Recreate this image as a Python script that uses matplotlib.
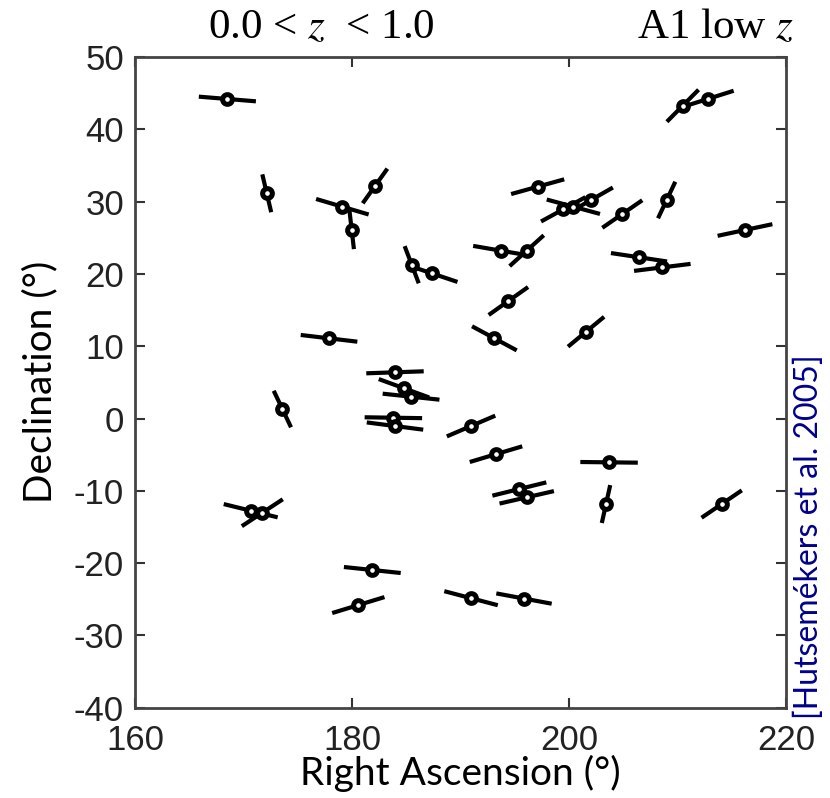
import numpy as np
import matplotlib
matplotlib.use("Agg")
import matplotlib.pyplot as plt

plt.rcParams['mathtext.fontset'] = 'stix'
plt.rcParams['axes.unicode_minus'] = False

# Quasar positions (deg) and polarization vector orientation (deg, in data frame)
ra = [168.51, 172.14, 182.12, 179.11, 179.97, 185.50, 187.35, 177.88, 183.96, 184.79,
      185.44, 183.81, 183.96, 173.58, 170.66, 171.73, 181.87, 180.58, 210.48, 212.78,
      197.11, 199.47, 200.40, 202.03, 204.91, 209.00, 216.22, 193.73, 196.10, 206.45,
      208.60, 194.41, 193.12, 201.57, 190.97, 193.27, 195.42, 196.10, 203.69, 203.41,
      214.07, 190.97, 195.85]
dec = [44.19, 31.15, 32.16, 29.29, 26.07, 21.27, 20.08, 11.09, 6.39, 4.18,
       3.02, 0.11, -1.04, 1.31, -12.75, -13.03, -20.95, -25.80, 43.26, 44.19,
       32.06, 28.93, 29.29, 30.22, 28.28, 30.22, 26.07, 23.21, 23.21, 22.30,
       20.90, 16.25, 11.09, 12.00, -1.04, -4.93, -9.75, -10.90, -6.06, -11.83,
       -11.83, -24.85, -24.90]
angle = [-7.0, 98.9, 64.6, 156.1, 94.4, 104.2, 153.3, 169.9, 3.0, 151.3,
         171.0, -1.3, 169.1, 107.5, 159.7, 44.6, 171.0, 24.6, 56.6, 25.4,
         22.6, 39.4, 157.9, 40.6, 46.0, 72.5, 17.7, 165.5, 53.6, 167.3,
         10.5, 46.8, 141.0, 51.1, 32.7, 24.1, 20.3, 19.0, -1.0, 81.6,
         45.6, 158.5, 164.4]

x_ticks = [160, 180, 200, 220]
y_ticks = [-40, -30, -20, -10, 0, 10, 20, 30, 40, 50]

SEG_LEN = 5.3  # length of each vector in degrees

fig = plt.figure(figsize=(8.30, 7.98), dpi=100)
ax = fig.add_axes([0.1627, 0.1131, 0.7843, 0.8155])

ra_a = np.array(ra)
dec_a = np.array(dec)
phi = np.deg2rad(np.array(angle))
dx = SEG_LEN / 2 * np.cos(phi)
dy = SEG_LEN / 2 * np.sin(phi)
for x0, y0, ddx, ddy in zip(ra_a, dec_a, dx, dy):
    ax.plot([x0 - ddx, x0 + ddx], [y0 - ddy, y0 + ddy], color='black', lw=3.0,
            solid_capstyle='butt', zorder=2)
ax.plot(ra_a, dec_a, linestyle='none', marker='o', ms=7.0, mfc='white', mec='black',
        mew=3.6, zorder=3)

ax.set_xlim(160, 220)
ax.set_ylim(-40, 50)
ax.set_xticks(x_ticks)
ax.set_yticks(y_ticks)
ax.tick_params(direction='in', length=7, width=1.5, top=True, right=True,
               labelsize=25, colors='#333333', labelcolor='#222222')
ax.tick_params(axis='x', pad=12)
ax.tick_params(axis='y', pad=8)
for lab in ax.get_xticklabels() + ax.get_yticklabels():
    lab.set_family('Liberation Sans')
for s in ax.spines.values():
    s.set_color('#444444')
    s.set_linewidth(2)

ax.set_xlabel('Right Ascension (°)', family='Lato', fontsize=28, labelpad=-2)
ax.set_ylabel('Declination (°)', family='Lato', fontsize=28, labelpad=11)

fig.text(0.387, 0.952, r'0.0 < $z$  < 1.0', family='Liberation Serif', fontsize=31,
         ha='center', va='baseline')
fig.text(0.956, 0.952, r'A1 low $z$', family='Liberation Serif', fontsize=31,
         ha='right', va='baseline')
fig.text(0.974, 0.327, '[Hutsemékers et al. 2005]', family='Lato', fontsize=23,
         color='#00008B', rotation=90, ha='center', va='center')

fig.savefig('out.png', dpi=100)
